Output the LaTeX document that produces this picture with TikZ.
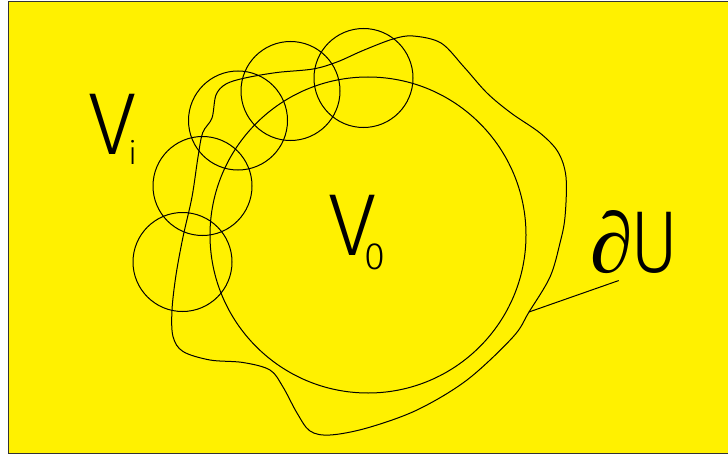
\documentclass[tikz,border=0pt]{standalone}
\usepackage{fontspec}
\newfontfamily\labelfont{Fira Sans}[UprightFont={* Light}]
\newfontfamily\partfont{Liberation Serif}
\usetikzlibrary{positioning}
\definecolor{paper}{RGB}{255,241,0}

\begin{document}
\begin{tikzpicture}[
        x=0.5pt, y=-0.5pt,
        ball/.style={circle, draw, line width=0.5pt, minimum size=49.5pt, inner sep=0pt},
        core/.style={circle, draw, line width=0.5pt, minimum size=158pt, inner sep=0pt},
        letter/.style={inner sep=0pt, anchor=base west, font=\labelfont\fontsize{44}{44}\selectfont},
        leader/.style={line width=0.5pt}
    ]

    \useasboundingbox (0,0) rectangle (728,460);
    \fill[paper] (8.5,1.5) rectangle (729,453.5);
    \draw[black!80, line width=0.5pt] (729,1.5) -- (8.5,1.5) -- (8.5,453.5) -- (729,453.5);

    \node[core] (V0) at (368,235) {};

    \node[ball] (B1) at (182.5,262) {};
    \node[ball] (B2) at (202.5,186) {};
    \node[ball] (B3) at (238,120.5) {};
    \node[ball] (B4) at (290.5,91) {};
    \node[ball] (B5) at (363.5,78) {};

    % boundary of U
    \draw[line width=0.5pt] plot[smooth cycle, tension=0.55] coordinates {
        (202.7,132.7) (212,118) (216,95) (226,84) (245,78) (277,72.5) (313,69)
        (337,62) (363,50.5) (393,39) (413,36) (441,43) (464,67) (487,93)
        (511,113) (540,133) (558,152) (566,177) (565,217) (560,243) (550,277)
        (529,312) (513,337) (467,380) (417,410) (367,428) (330,435) (310,431)
        (297,413) (283,387) (270,370) (243,362.5) (210,360) (183,351.5)
        (173,336.5) (172,310) (176,275) (183,237) (192,197) (198,157)};
    \coordinate (touch) at (529,312);

    \node[letter] (Vi) at (88,155) {V\kern-4pt\raisebox{-5pt}{\fontsize{16}{16}\selectfont i}};
    \node[letter] (Vz) at (328,255) {V\kern-6pt\raisebox{-7pt}{\fontsize{19}{19}\selectfont 0}};
    \node[letter, inner sep=3.5pt] (dU) at (583,272)
        {{\partfont\itshape\fontsize{43}{43}\selectfont ∂}\kern-1pt\scalebox{0.84}[1]{U}};

    \draw[leader] ([xshift=-8pt]dU.south) -- (touch);
\end{tikzpicture}
\end{document}
